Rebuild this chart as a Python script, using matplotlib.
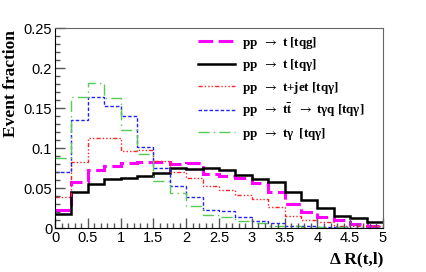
import matplotlib
matplotlib.use("Agg")
import matplotlib.pyplot as plt
import numpy as np

# bin edges of Delta R(t,l), 20 bins of 0.25
edges = np.linspace(0, 5, 21)

tqg = [0.0225, 0.0575, 0.0725, 0.078, 0.081, 0.082, 0.082, 0.080, 0.081, 0.068,
       0.065, 0.062, 0.056, 0.045, 0.030, 0.020, 0.014, 0.010, 0.0055, 0.003]
tqa = [0.018, 0.045, 0.055, 0.061, 0.063, 0.065, 0.069, 0.075, 0.074, 0.075,
       0.073, 0.066, 0.061, 0.057, 0.045, 0.035, 0.025, 0.015, 0.012, 0.007]
tjet = [0.039, 0.083, 0.112, 0.112, 0.096, 0.097, 0.084, 0.070, 0.063, 0.053,
        0.048, 0.041, 0.036, 0.026, 0.015, 0.010, 0.007, 0.003, 0.003, 0.002]
ttbar = [0.070, 0.135, 0.164, 0.152, 0.140, 0.101, 0.075, 0.053, 0.039, 0.022,
         0.021, 0.014, 0.009, 0.006, 0.0025, 0.002, 0.001, 0.001, 0.0005, 0.0005]
tgam = [0.088, 0.164, 0.181, 0.162, 0.1225, 0.092, 0.059, 0.044, 0.0275, 0.016,
        0.014, 0.009, 0.006, 0.0025, 0.002, 0.0015, 0.001, 0.001, 0.0005, 0.0005]

arr = r"$\rightarrow$"
labels = ["pp  " + arr + " t [tqg]",
          "pp  " + arr + " t [tq\u03b3]",
          "pp  " + arr + " t+jet [tq\u03b3]",
          "pp  " + arr + r" t$\mathbf{\bar{t}}$  " + arr + " t\u03b3q [tq\u03b3]",
          "pp  " + arr + " t\u03b3  [tq\u03b3]"]

xticks = [0, 0.5, 1, 1.5, 2, 2.5, 3, 3.5, 4, 4.5, 5]
xticklabels = ["0", "0.5", "1", "1.5", "2", "2.5", "3", "3.5", "4", "4.5", "5"]
yticks = [0, 0.05, 0.1, 0.15, 0.2, 0.25]
yticklabels = ["0", "0.05", "0.1", "0.15", "0.2", "0.25"]

serif = ["Liberation Serif", "DejaVu Serif"]
sans = ["Liberation Sans", "DejaVu Sans"]
plt.rcParams["mathtext.fontset"] = "stix"

fig = plt.figure(figsize=(4.26, 2.72), dpi=100)
ax = fig.add_axes([55/426, 1 - 228/272, 328/426, 200/272])

ax.stairs(tqg, edges, baseline=None, color="#ff00ff", lw=2.2, ls=(0, (4.8, 1.8)))
ax.stairs(tqa, edges, baseline=None, color="black", lw=1.8)
ax.stairs(tjet, edges, baseline=None, color="#ff2020", lw=1.0,
          ls=(0, (3, 1.5, 1, 1.5, 1, 1.5, 1, 1.5)))
ax.stairs(ttbar, edges, baseline=None, color="#2020ff", lw=1.0, ls=(0, (2.5, 1.5)))
ax.stairs(tgam, edges, baseline=None, color="#55cc55", lw=1.0, ls=(0, (8, 3, 1, 3)))

ax.set_xlim(0, 5)
ax.set_ylim(0, 0.25)
ax.set_xticks(xticks)
ax.set_xticklabels(xticklabels, fontfamily=sans, fontsize=10.5)
ax.set_yticks(yticks)
ax.set_yticklabels(yticklabels, fontfamily=sans, fontsize=10.5)
ax.set_xticks(np.arange(0, 5.01, 0.1), minor=True)
ax.set_yticks(np.arange(0, 0.2501, 0.01), minor=True)
ax.tick_params(which="both", direction="in", color="#555555", top=False, right=False)
ax.tick_params(which="major", length=7, width=1, pad=2)
ax.tick_params(which="minor", length=3.5, width=1)

for s in ["top", "right"]:
    ax.spines[s].set_color("#666666")
for s in ["left", "bottom"]:
    ax.spines[s].set_color("black")

ax.set_ylabel("Event fraction", loc="top", fontfamily=serif, fontweight="bold", fontsize=12.5)
ax.yaxis.set_label_coords(-0.11, 0.99)
ax.set_xlabel("\u0394 R(t,l)", loc="right", fontfamily=serif, fontweight="bold", fontsize=12.5)
ax.xaxis.set_label_coords(1.0, -0.115)

leg = ax.legend(labels, loc="upper left", bbox_to_anchor=(198/426, 1 - 35/272),
                bbox_transform=fig.transFigure, frameon=False, borderpad=0,
                borderaxespad=0, handlelength=2.8, handletextpad=0.6,
                labelspacing=0.48, prop={"family": serif, "weight": "bold", "size": 9.4})

fig.savefig("out.png", dpi=100)
